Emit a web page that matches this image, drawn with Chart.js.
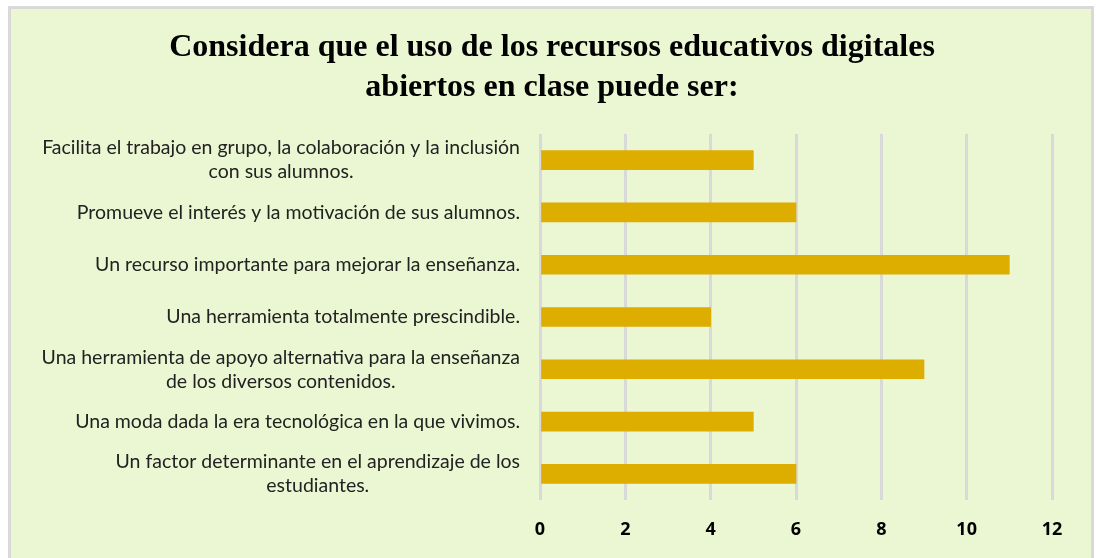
<!DOCTYPE html>
<html>
<head>
<meta charset="utf-8">
<script src="https://cdn.jsdelivr.net/npm/chart.js@4"></script>
<style>
  body { margin: 0; background: #fff; }
  #box {
    position: absolute; left: 8px; top: 6px; width: 1080px; height: 560px;
    border: 3px solid #d9d9d9; border-bottom: none; background: #ebf7d3;
  }
  #wrap { position: absolute; left: 0; top: 0; width: 1096px; height: 558px; }
</style>
</head>
<body>
<div id="box"></div>
<div id="wrap"><canvas id="chart"></canvas></div>
<script>
// categories (top to bottom) and counts
const categories = [
  ["Facilita el trabajo en grupo, la colaboración y la inclusión", "con sus alumnos."],
  ["Promueve el interés y la motivación de sus alumnos."],
  ["Un recurso importante para mejorar la enseñanza."],
  ["Una herramienta totalmente prescindible."],
  ["Una herramienta de apoyo alternativa para la enseñanza", "de los diversos contenidos."],
  ["Una moda dada la era tecnológica en la que vivimos."],
  ["Un factor determinante en el aprendizaje de los", "estudiantes."],
];
const counts = [5, 6, 11, 4, 9, 5, 6];
const titleLines = [
  "Considera que el uso de los recursos educativos digitales",
  "abiertos en clase puede ser:",
];

const labelFont = "19.5px Lato";
const labelLine = 24;

// Excel-style category labels: block right-aligned, lines centred on each other
const categoryLabels = {
  id: "categoryLabels",
  afterDraw(chart) {
    const { ctx } = chart;
    const yScale = chart.scales.y;
    const right = chart.chartArea.left - 20;
    ctx.save();
    ctx.font = labelFont;
    ctx.fillStyle = "#222";
    ctx.textAlign = "center";
    ctx.textBaseline = "middle";
    chart.data.labels.forEach((lines, i) => {
      const maxW = Math.max(...lines.map((l) => ctx.measureText(l).width));
      const cx = right - maxW / 2;
      const cy = yScale.getPixelForValue(i);
      const top = cy - ((lines.length - 1) * labelLine) / 2;
      lines.forEach((l, j) => ctx.fillText(l, cx, top + j * labelLine));
    });
    ctx.restore();
  },
};

new Chart(document.getElementById("chart"), {
  type: "bar",
  data: {
    labels: categories,
    datasets: [
      {
        data: counts,
        backgroundColor: "#ddad00",
        barThickness: 19,
      },
    ],
  },
  options: {
    indexAxis: "y",
    responsive: true,
    maintainAspectRatio: false,
    animation: false,
    layout: { padding: { left: 52, right: 44, top: 0, bottom: 0 } },
    plugins: {
      legend: { display: false },
      tooltip: { enabled: false },
      title: {
        display: true,
        text: titleLines,
        color: "#000",
        font: { family: "'Liberation Serif'", size: 32, weight: "bold", lineHeight: 1.25 },
        padding: { top: 28, bottom: 26 },
      },
    },
    scales: {
      x: {
        min: 0,
        max: 12,
        ticks: {
          stepSize: 2,
          color: "#000",
          font: { family: "'Open Sans'", size: 18, weight: "bold" },
          padding: 19,
        },
        grid: { color: "#d9d9d9", lineWidth: 3, drawTicks: false },
        border: { display: false },
        afterFit: (scale) => { scale.height = 58; },
      },
      y: {
        ticks: { display: false },
        grid: { display: false },
        border: { display: false },
        afterFit: (scale) => { scale.width = 488; },
      },
    },
  },
  plugins: [categoryLabels],
});
</script>
</body>
</html>
